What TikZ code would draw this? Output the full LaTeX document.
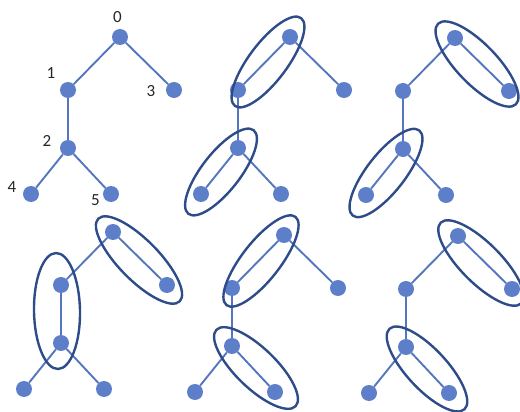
\documentclass[tikz,border=0pt]{standalone}
\usepackage{fontspec}
\setmainfont{Carlito}
\usetikzlibrary{shapes.geometric}
\definecolor{dotblue}{RGB}{93,126,201}
\definecolor{edgeblue}{RGB}{84,118,190}
\definecolor{ringblue}{RGB}{46,76,138}
\tikzset{
  dot/.style={circle,fill=dotblue,draw=none,minimum size=16pt,inner sep=0pt},
  edge/.style={draw=edgeblue,line width=1.9pt},
  ring/.style={ellipse,draw=ringblue,line width=2.4pt,inner sep=0pt},
  lbl/.style={font=\fontsize{17}{17}\selectfont,text=black!85,inner sep=0pt}
}
\begin{document}
\begin{tikzpicture}[x=1pt,y=-1pt]
\useasboundingbox (0,0) rectangle (520,412);
\foreach \t/\x/\y in {a/120/37, b/290/37, c/455/38, d/113/232, e/284/235, f/458/236} {
  \node[dot] (\t0) at (\x,\y) {};
  \node[dot] (\t1) at (\x-52,\y+53) {};
  \node[dot] (\t3) at (\x+54,\y+53) {};
  \node[dot] (\t2) at (\x-52,\y+111) {};
  \node[dot] (\t4) at (\x-89,\y+157) {};
  \node[dot] (\t5) at (\x-9,\y+157) {};
  \draw[edge] (\t0) -- (\t1);
  \draw[edge] (\t0) -- (\t3);
  \draw[edge] (\t1) -- (\t2);
  \draw[edge] (\t2) -- (\t4);
  \draw[edge] (\t2) -- (\t5);
}
% labels
\node[lbl] (l0) at (117.5,17.5) {0};
\node[lbl] (l1) at (51,73) {1};
\node[lbl] (l3) at (151,91.5) {3};
\node[lbl] (l2) at (47,141) {2};
\node[lbl] (l4) at (12,187) {4};
\node[lbl] (l5) at (95.5,200.5) {5};
% rings
\node[ring,minimum width=110pt,minimum height=38pt,rotate=53] (r1) at (268,62) {};
\node[ring,minimum width=106pt,minimum height=38pt,rotate=52] (r2) at (221,172) {};
\node[ring,minimum width=112pt,minimum height=40pt,rotate=-46] (r3) at (477,64) {};
\node[ring,minimum width=108pt,minimum height=38pt,rotate=52] (r4) at (386,173) {};
\node[ring,minimum width=116pt,minimum height=40pt,rotate=-45.5] (r5) at (139,260) {};
\node[ring,minimum width=116pt,minimum height=46pt,rotate=91] (r6) at (57,311) {};
\node[ring,minimum width=112pt,minimum height=38pt,rotate=52] (r7) at (261,261) {};
\node[ring,minimum width=110pt,minimum height=40pt,rotate=-44] (r8) at (256,368) {};
\node[ring,minimum width=114pt,minimum height=40pt,rotate=-45] (r9) at (481,263) {};
\node[ring,minimum width=110pt,minimum height=40pt,rotate=-47] (r10) at (427,369) {};
\end{tikzpicture}
\end{document}
